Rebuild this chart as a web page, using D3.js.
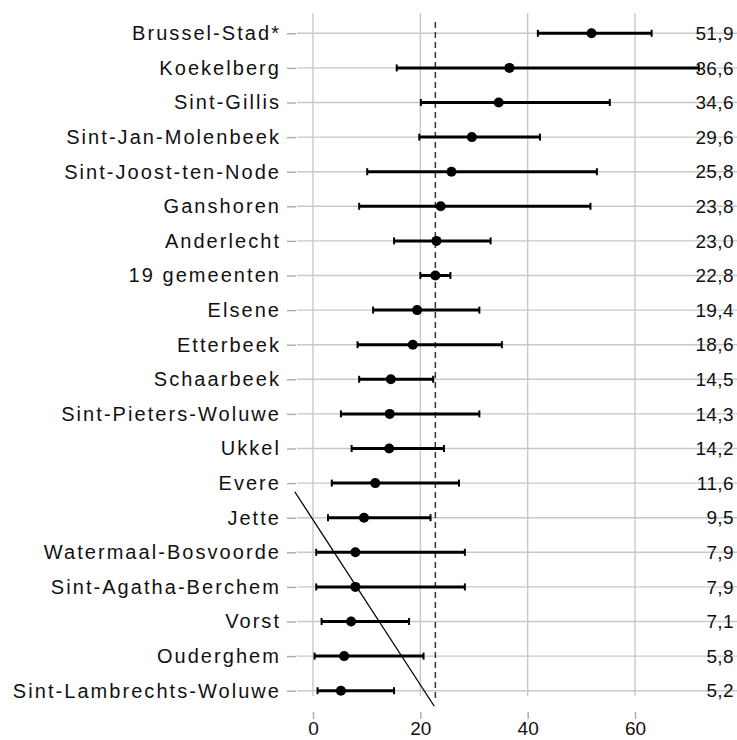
<!DOCTYPE html>
<html>
<head>
<meta charset="utf-8">
<script src="https://cdn.jsdelivr.net/npm/d3@7"></script>
<style>
  body { margin: 0; background: #fff; }
  svg { display: block; font-family: "Liberation Sans", Arial, sans-serif; }
</style>
</head>
<body>
<svg id="chart" width="737" height="740"></svg>
<script>
// gemeenten, top to bottom
const names = [
  'Brussel-Stad*', 'Koekelberg', 'Sint-Gillis', 'Sint-Jan-Molenbeek',
  'Sint-Joost-ten-Node', 'Ganshoren', 'Anderlecht', '19 gemeenten',
  'Elsene', 'Etterbeek', 'Schaarbeek', 'Sint-Pieters-Woluwe', 'Ukkel',
  'Evere', 'Jette', 'Watermaal-Bosvoorde', 'Sint-Agatha-Berchem',
  'Vorst', 'Ouderghem', 'Sint-Lambrechts-Woluwe'
];
const estimate = [51.9, 36.6, 34.6, 29.6, 25.8, 23.8, 23.0, 22.8, 19.4, 18.6,
  14.5, 14.3, 14.2, 11.6, 9.5, 7.9, 7.9, 7.1, 5.8, 5.2];
const lower = [41.9, 15.6, 20.1, 19.8, 10.1, 8.6, 15.1, 20.0, 11.2, 8.3,
  8.6, 5.2, 7.2, 3.5, 2.8, 0.6, 0.6, 1.6, 0.3, 0.85];
const upper = [63.1, 71.9, 55.3, 42.3, 52.9, 51.7, 33.1, 25.6, 31.0, 35.2,
  22.4, 31.0, 24.4, 27.2, 21.9, 28.3, 28.3, 17.9, 20.6, 15.1];
const valueLabels = ['51,9', '36,6', '34,6', '29,6', '25,8', '23,8', '23,0', '22,8',
  '19,4', '18,6', '14,5', '14,3', '14,2', '11,6', '9,5', '7,9', '7,9', '7,1', '5,8', '5,2'];
const xTicks = [0, 20, 40, 60];
const meanLine = 22.8;
// diagonal stroke in the lower-left (x value, row position)
const slashX = [-3.4, 22.6];
const slashRow = [13.25, 19.45];

const svg = d3.select('#chart');
const panel = { left: 297, right: 737, top: 13, bottom: 696 };

const x = d3.scaleLinear().domain([0, 60]).range([313, 635]);
const rowY = d3.scaleLinear().domain([0, names.length - 1]).range([33.3, 690.7]);
const y = d3.scalePoint().domain(names).range([33.3, 690.7]);

const rows = names.map((n, i) => ({
  name: n, est: estimate[i], lo: lower[i], hi: upper[i], lab: valueLabels[i]
}));

// vertical gridlines
svg.append('g')
  .selectAll('line')
  .data(xTicks)
  .enter().append('line')
  .attr('x1', d => x(d)).attr('x2', d => x(d))
  .attr('y1', panel.top).attr('y2', panel.bottom)
  .attr('stroke', '#c8c8c8').attr('stroke-width', 1.4);

// horizontal gridlines
svg.append('g')
  .selectAll('line')
  .data(rows)
  .enter().append('line')
  .attr('x1', panel.left).attr('x2', panel.right)
  .attr('y1', d => y(d.name)).attr('y2', d => y(d.name))
  .attr('stroke', '#c8c8c8').attr('stroke-width', 1.4);

// y axis
const yAxis = svg.append('g')
  .attr('transform', 'translate(296,0)')
  .call(d3.axisLeft(y).tickSize(9).tickPadding(6));
yAxis.select('.domain').remove();
yAxis.selectAll('.tick line').attr('stroke', '#aaaaaa').attr('stroke-width', 1.4);
yAxis.selectAll('.tick text')
  .attr('font-size', 20)
  .attr('letter-spacing', '2.05px')
  .attr('fill', '#111')
  .attr('font-family', '"Liberation Sans", Arial, sans-serif');

// x axis
const xAxis = svg.append('g')
  .attr('transform', 'translate(0,712)')
  .call(d3.axisBottom(x).tickValues(xTicks).tickSize(7).tickPadding(3));
xAxis.select('.domain').remove();
xAxis.selectAll('.tick line').attr('stroke', '#aaaaaa').attr('stroke-width', 1.4);
xAxis.selectAll('.tick text')
  .attr('font-size', 19)
  .attr('fill', '#111')
  .attr('font-family', '"Liberation Sans", Arial, sans-serif');

// dashed reference line
svg.append('line')
  .attr('x1', x(meanLine)).attr('x2', x(meanLine))
  .attr('y1', 22).attr('y2', 700)
  .attr('stroke', '#333').attr('stroke-width', 1.5)
  .attr('stroke-dasharray', '6,4');

// error bars
const bars = svg.append('g').selectAll('g')
  .data(rows)
  .enter().append('g');
bars.append('line')
  .attr('x1', d => x(d.lo)).attr('x2', d => x(d.hi))
  .attr('y1', d => y(d.name)).attr('y2', d => y(d.name))
  .attr('stroke', '#000').attr('stroke-width', 3);
bars.selectAll('.cap')
  .data(d => [{ v: d.lo, n: d.name }, { v: d.hi, n: d.name }])
  .enter().append('line')
  .attr('class', 'cap')
  .attr('x1', d => x(d.v)).attr('x2', d => x(d.v))
  .attr('y1', d => y(d.n) - 3.5).attr('y2', d => y(d.n) + 3.5)
  .attr('stroke', '#000').attr('stroke-width', 2);
bars.append('circle')
  .attr('cx', d => x(d.est))
  .attr('cy', d => y(d.name))
  .attr('r', 5)
  .attr('fill', '#000');

// value labels on the right
svg.append('g').selectAll('text')
  .data(rows)
  .enter().append('text')
  .attr('x', 734)
  .attr('y', d => y(d.name))
  .attr('dy', '0.35em')
  .attr('text-anchor', 'end')
  .attr('font-size', 19)
  .attr('letter-spacing', '0.4px')
  .attr('fill', '#111')
  .text(d => d.lab);

// diagonal stroke
svg.append('line')
  .attr('x1', x(slashX[0])).attr('y1', rowY(slashRow[0]))
  .attr('x2', x(slashX[1])).attr('y2', rowY(slashRow[1]))
  .attr('stroke', '#000').attr('stroke-width', 1.3);
</script>
</body>
</html>
